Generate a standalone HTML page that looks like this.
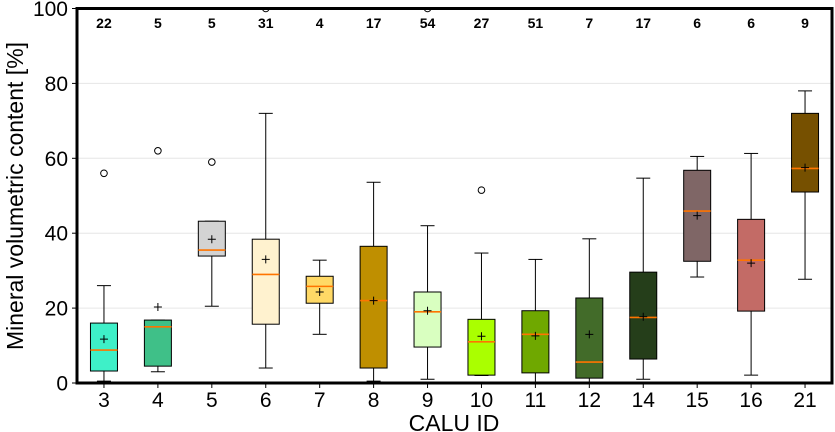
<!DOCTYPE html>
<html><head><meta charset="utf-8"><style>
html,body{margin:0;padding:0;background:#fff;}
svg{display:block;font-family:"Liberation Sans",Arial,sans-serif;}
</style></head><body>
<svg id="chart" width="835" height="432"><defs><clipPath id="pc"><rect x="70" y="7" width="770" height="400"/></clipPath></defs></svg>
<script>
const categories=["3","4","5","6","7","8","9","10","11","12","14","15","16","21"];
const counts=[22,5,5,31,4,17,54,27,51,7,17,6,6,9];
const whiskerLow=[0.5,3,20.5,4,13,0.5,1,2,0.1,0.1,1,28.3,2.1,27.7];
const q1=[3.2,4.5,33.9,15.7,21.3,4,9.6,2.1,2.7,1.3,6.4,32.5,19.2,51];
const medians=[8.8,15,35.5,29,25.8,22,19,11,13,5.6,17.5,45.9,32.8,57.3];
const q3=[16,16.8,43.2,38.4,28.5,36.5,24.3,17,19.3,22.7,29.6,56.8,43.7,72];
const whiskerHigh=[26,16.8,43.2,72,32.8,53.6,42,34.7,33,38.5,54.7,60.5,61.3,78];
const means=[11.7,20.3,38.4,33,24.3,22,19.3,12.5,12.6,13,17.7,44.7,32,57.5];
const outliers=[[56],[62],[59],[100],[],[],[100],[51.5],[],[],[],[],[],[]];
const colors=["#3ef0c8","#3fc088","#d3d3d3","#fff2cf","#ffd966","#bf8f00","#d9ffc0","#aaff00","#6fa800","#426b29","#253e1a","#7f6666","#c36b66","#765000"];
const yTicks=[0,20,40,60,80,100];

const svg=document.getElementById('chart');
const NS="http://www.w3.org/2000/svg";
const L=77,R=832,T=8.5,B=383;
const y=v=>B-(v/100)*(B-T);
const step=(R-L)/categories.length;
const x=i=>L+step*(i+0.5);
const bw=27;
function mk(tag,attrs,parent){const e=document.createElementNS(NS,tag);for(const k in attrs)e.setAttribute(k,attrs[k]);(parent||svg).appendChild(e);return e;}

yTicks.forEach(t=>{
  if(t>0&&t<100){const g=mk('line',{x1:L,x2:R,y1:y(t),y2:y(t),stroke:'#e6e6e6','stroke-width':1});
  
  }
  mk('line',{x1:L-5,x2:L,y1:y(t),y2:y(t),stroke:'#000','stroke-width':1});
  const tx=mk('text',{x:L-9,y:y(t)+7.5,'text-anchor':'end','font-size':21,fill:'#000'});
  tx.textContent=t;
  
  
});

categories.forEach((c,i)=>{
  const cx=x(i);
  const g=mk('g',{'clip-path':'url(#pc)'});
  
  
  mk('line',{x1:cx,x2:cx,y1:y(whiskerLow[i]),y2:y(q1[i]),stroke:'#000','stroke-width':1},g);
  mk('line',{x1:cx,x2:cx,y1:y(q3[i]),y2:y(whiskerHigh[i]),stroke:'#000','stroke-width':1},g);
  mk('line',{x1:cx-7,x2:cx+7,y1:y(whiskerLow[i]),y2:y(whiskerLow[i]),stroke:'#000','stroke-width':1},g);
  mk('line',{x1:cx-7,x2:cx+7,y1:y(whiskerHigh[i]),y2:y(whiskerHigh[i]),stroke:'#000','stroke-width':1},g);
  mk('rect',{x:cx-bw/2,y:y(q3[i]),width:bw,height:y(q1[i])-y(q3[i]),fill:colors[i],stroke:'#000','stroke-width':1},g);
  mk('line',{x1:cx-bw/2,x2:cx+bw/2,y1:y(medians[i]),y2:y(medians[i]),stroke:'#ff7400','stroke-width':1.6},g);
  const my=y(means[i]);
  mk('path',{d:`M${cx-4},${my}H${cx+4}M${cx},${my-4}V${my+4}`,stroke:'#000','stroke-width':1},g);
  outliers[i].forEach(o=>{
    mk('circle',{cx:cx,cy:y(o),r:3.3,fill:'none',stroke:'#000','stroke-width':1},g);
  });
  const n=mk('text',{x:cx,y:28,'text-anchor':'middle','font-size':14,'font-weight':'bold',fill:'#000'});
  n.textContent=counts[i];
  
  
  mk('line',{x1:cx,x2:cx,y1:B,y2:B+5,stroke:'#000','stroke-width':1});
  const xl=mk('text',{x:cx,y:407,'text-anchor':'middle','font-size':21,fill:'#000'});
  xl.textContent=c;
  
  
});

const fr=mk('rect',{x:L,y:T,width:R-L,height:B-T,fill:'none',stroke:'#000','stroke-width':3});


const xt=mk('text',{x:454,y:431,'text-anchor':'middle','font-size':23,fill:'#000'});
xt.textContent='CALU ID';


const yt=mk('text',{x:0,y:0,'text-anchor':'middle','font-size':23,fill:'#000',transform:'translate(23,196) rotate(-90)'});
yt.textContent='Mineral volumetric content [%]';


</script>
</body></html>
